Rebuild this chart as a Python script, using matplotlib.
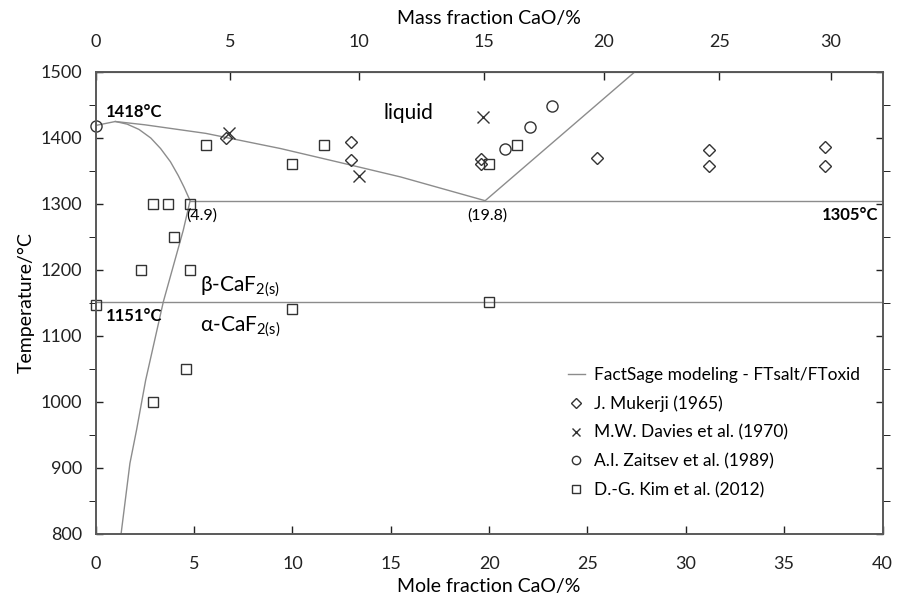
import numpy as np
import matplotlib.pyplot as plt
from matplotlib.lines import Line2D

plt.rcParams['font.family'] = ['Lato', 'DejaVu Sans']
plt.rcParams['mathtext.default'] = 'regular'

# FactSage curves (mole % CaO, °C)
liq_x = [0, 1.0, 2.5, 5.6, 9.4, 12.4, 15.5, 19.8]
liq_t = [1419, 1425, 1420, 1407, 1384, 1363, 1341, 1305]
liq2_x = [19.8, 27.4]
liq2_t = [1305, 1500]
solv_x = [1.0, 1.6, 2.2, 2.8, 3.3, 3.8, 4.2, 4.5, 4.8, 4.45, 3.44, 2.54, 2.08, 1.74, 1.29]
solv_t = [1425, 1421, 1413, 1400, 1384, 1364, 1343, 1325, 1305, 1260, 1152, 1033, 958, 907, 800]
eut_x = [4.8, 40]
eut_t = [1305, 1305]
trans_x = [0, 40]
trans_t = [1151, 1151]

# experimental data
muk_x = [6.6, 13.0, 13.0, 19.6, 19.6, 25.5, 31.2, 31.2, 37.1, 37.1]
muk_t = [1400, 1394, 1366, 1368, 1361, 1369, 1382, 1358, 1386, 1358]
dav_x = [6.8, 13.4, 19.7]
dav_t = [1408, 1343, 1432]
zai_x = [0, 20.8, 22.1, 23.2]
zai_t = [1418, 1383, 1416, 1449]
kim_x = [5.6, 10.0, 11.6, 20.0, 21.4, 2.9, 3.7, 4.8, 4.0, 2.3, 4.8, 0.0, 10.0, 20.0, 4.6, 2.9]
kim_t = [1389, 1361, 1389, 1360, 1389, 1300, 1300, 1300, 1250, 1200, 1200, 1147, 1141, 1151, 1050, 1000]

M_CAO = 56.08
M_CAF2 = 78.07


def mole_to_mass(x):
    x = np.asarray(x, dtype=float)
    return 100 * x * M_CAO / (x * M_CAO + (100 - x) * M_CAF2)


def mass_to_mole(w):
    w = np.asarray(w, dtype=float)
    return 100 * (w / M_CAO) / (w / M_CAO + (100 - w) / M_CAF2)


fig = plt.figure(figsize=(9.07, 6.0), dpi=100)
ax = fig.add_axes([0.1055, 0.11, 0.8675, 0.77])

lc = '#8c8c8c'
for xs, ts in [(liq_x, liq_t), (liq2_x, liq2_t), (solv_x, solv_t), (eut_x, eut_t), (trans_x, trans_t)]:
    ax.plot(xs, ts, color=lc, lw=1.0, clip_on=True)

mk = dict(linestyle='none', markerfacecolor='none', markeredgecolor='#333333', markeredgewidth=1.0, clip_on=False)
ax.plot(muk_x, muk_t, marker='D', markersize=6.5, **mk)
ax.plot(dav_x, dav_t, marker='x', markersize=8, **mk)
ax.plot(zai_x, zai_t, marker='o', markersize=8, **mk)
ax.plot(kim_x, kim_t, marker='s', markersize=7.5, **mk)

ax.set_xlim(0, 40)
ax.set_ylim(800, 1500)
ax.set_xticks(np.arange(0, 41, 5))
ax.set_yticks(np.arange(800, 1501, 100))
ax.set_yticks(np.arange(850, 1500, 100), minor=True)
ax.tick_params(axis='both', direction='in', labelsize=13, colors='#222222', length=6, width=1.0, pad=10)
ax.tick_params(axis='y', which='both', right=True, length=5)
ax.tick_params(axis='x', pad=16)
for s in ax.spines.values():
    s.set_color('#595959')
    s.set_linewidth(1.4)

ax.set_xlabel('Mole fraction CaO/%', fontsize=14, labelpad=4)
ax.set_ylabel('Temperature/°C', fontsize=14, labelpad=4)

top = ax.secondary_xaxis('top', functions=(mole_to_mass, mass_to_mole))
top.set_xticks(np.arange(0, 31, 5))
top.tick_params(direction='in', labelsize=13, length=6, width=1.0, pad=16, colors='#222222')
top.set_xlabel('Mass fraction CaO/%', fontsize=14, labelpad=7)

# annotations
ax.text(0.5, 1440, '1418°C', fontsize=12, fontweight='bold', va='center', ha='left')
ax.text(0.5, 1130, '1151°C', fontsize=12, fontweight='bold', va='center', ha='left')
ax.text(39.8, 1283, '1305°C', fontsize=12, fontweight='bold', va='center', ha='right')
ax.text(4.6, 1283, '(4.9)', fontsize=11.5, va='center', ha='left')
ax.text(19.9, 1283, '(19.8)', fontsize=11.5, va='center', ha='center')
ax.text(15.9, 1438, 'liquid', fontsize=15, va='center', ha='center')
ax.text(5.3, 1175, r'β-CaF$_{2(s)}$', fontsize=15, va='center', ha='left')
ax.text(5.3, 1113, r'α-CaF$_{2(s)}$', fontsize=15, va='center', ha='left')

handles = [
    Line2D([], [], color=lc, lw=1.0),
    Line2D([], [], marker='D', markersize=5, **mk),
    Line2D([], [], marker='x', markersize=6, **mk),
    Line2D([], [], marker='o', markersize=6, **mk),
    Line2D([], [], marker='s', markersize=6, **mk),
]
labels = ['FactSage modeling - FTsalt/FToxid', 'J. Mukerji (1965)',
          'M.W. Davies et al. (1970)', 'A.I. Zaitsev et al. (1989)', 'D.-G. Kim et al. (2012)']
ax.legend(handles, labels, loc='upper left', bbox_to_anchor=(0.58, 0.395), frameon=False,
          fontsize=12.5, labelspacing=0.72, handlelength=1.0, handletextpad=0.5)

fig.savefig('out.png', dpi=100)
